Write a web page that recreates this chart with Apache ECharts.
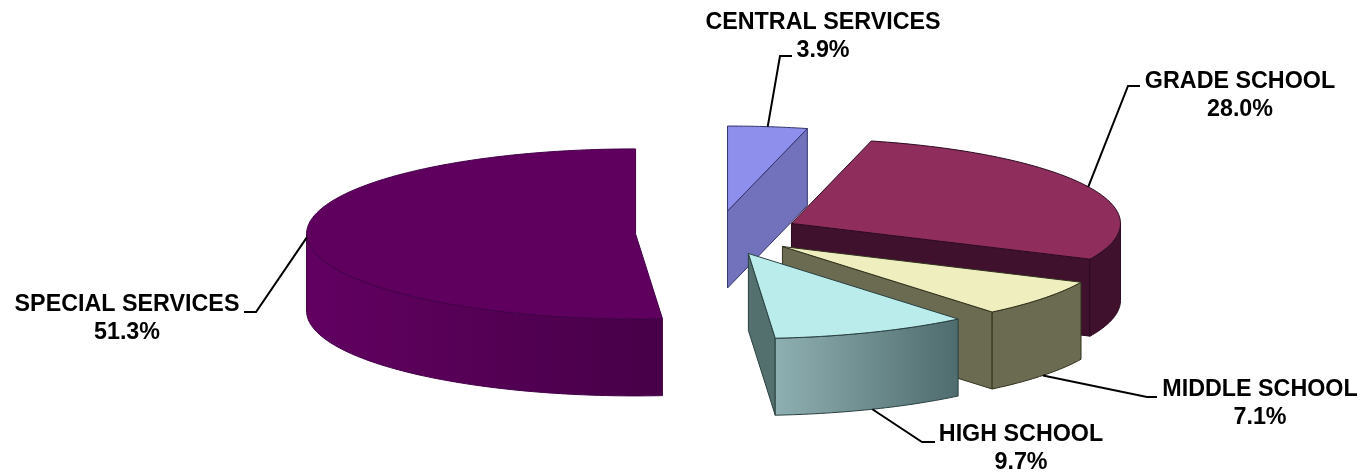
<!DOCTYPE html>
<html>
<head>
<meta charset="utf-8">
<style>html,body{margin:0;padding:0;background:#fff}#chart{width:1363px;height:474px}</style>
<script src="https://cdn.jsdelivr.net/npm/echarts@6/dist/echarts.min.js"></script>
</head>
<body>
<div id="chart"></div>
<script>
// Budget shares, listed clockwise from twelve o'clock.
const categories = ['CENTRAL SERVICES', 'GRADE SCHOOL', 'MIDDLE SCHOOL', 'HIGH SCHOOL', 'SPECIAL SERVICES'];
const shares = [3.9, 28.0, 7.1, 9.7, 51.3];

// Tilted pie geometry.
const PIE = { cx: 717.5, cy: 233, rx: 329, ry: 85, depth: 77, explode: 82, explodeTilt: 0.27 };

// Face colours per slice; rim entries may be a [left, right] gradient.
const STYLES = [
  { top: '#8e8eec', rim: '#7272bc', cut: '#7272bc', line: '#34346e' },
  { top: '#8f2d5d', rim: '#3f112d', cut: '#3f112d', line: '#2c0a20' },
  { top: '#eeeebe', rim: '#6b6b51', cut: '#6b6b51', line: '#33331f' },
  { top: '#bbecec', rim: ['#8fb0b2', '#4e6b6d'], cut: '#53706f', line: '#2a4040' },
  { top: '#5f005f', rim: ['#620062', '#470047'], cut: '#470047', line: '#430048' }
];

// Callout text centre, and the two bends of each leader line.
const CALLOUTS = [
  { x: 823, y: [23, 51], bend: [[780, 56], [792, 56]] },
  { x: 1240, y: [82, 110], bend: [[1128, 86], [1140, 86]] },
  { x: 1260, y: [390, 418], bend: [[1147, 397], [1157, 397]] },
  { x: 1021, y: [435, 463], bend: [[922, 442], [935, 442]] },
  { x: 127, y: [305, 333], bend: [[256, 312], [244, 312]] }
];

const TOTAL = shares.reduce((a, b) => a + b, 0);
const RAD = Math.PI / 180;

// Point on the pie's ellipse; angle runs clockwise from the top, in degrees.
function rimPoint(o, deg, drop) {
  return [
    o[0] + PIE.rx * Math.sin(deg * RAD),
    o[1] - PIE.ry * Math.cos(deg * RAD) + (drop || 0)
  ];
}

function arc(o, from, to, drop) {
  const n = Math.max(2, Math.ceil(Math.abs(to - from)));
  const pts = [];
  for (let i = 0; i <= n; i++) pts.push(rimPoint(o, from + (to - from) * i / n, drop));
  return pts;
}

function fillOf(c) {
  return Array.isArray(c)
    ? { type: 'linear', x: 0, y: 0, x2: 1, y2: 0, colorStops: [{ offset: 0, color: c[0] }, { offset: 1, color: c[1] }] }
    : c;
}

function face(points, fill, line) {
  return {
    type: 'polygon',
    shape: { points: points },
    style: { fill: fillOf(fill), stroke: line, lineWidth: 1, lineJoin: 'round' }
  };
}

function renderSlice(params, api) {
  const i = api.value(0);
  const share = api.value(1);
  const before = shares.slice(0, i).reduce((a, b) => a + b, 0);
  const a1 = before / TOTAL * 360;
  const a2 = a1 + share / TOTAL * 360;
  const mid = (a1 + a2) / 2;
  const st = STYLES[i];
  const d = PIE.depth;

  // Each slice is pushed out from the pie centre along its middle angle.
  const o = [
    PIE.cx + PIE.explode * Math.sin(mid * RAD),
    PIE.cy - PIE.explode * PIE.explodeTilt * Math.cos(mid * RAD)
  ];
  const children = [];

  // Radial cut faces, only when they turn towards the viewer.
  const cutFace = (deg) => {
    const p = rimPoint(o, deg);
    children.push(face([o, p, [p[0], p[1] + d], [o[0], o[1] + d]], st.cut, st.line));
  };
  if (Math.sin(a1 * RAD) < -1e-6) cutFace(a1);
  if (Math.sin(a2 * RAD) > 1e-6) cutFace(a2);

  // Outer wall over the front half of the ellipse.
  const r1 = Math.max(a1, 90);
  const r2 = Math.min(a2, 270);
  if (r2 > r1) {
    children.push(face(arc(o, r1, r2, 0).concat(arc(o, r2, r1, d)), st.rim, st.line));
  }

  // Top face.
  children.push(face([o].concat(arc(o, a1, a2, 0)), st.top, st.line));

  // Leader line, anchored on the rim at the slice's middle angle.
  const onFront = mid > 100 && mid < 260;
  const c = CALLOUTS[i];
  children.push({
    type: 'polyline',
    shape: { points: [rimPoint(o, mid, onFront ? d : 0)].concat(c.bend) },
    style: { fill: null, stroke: '#000', lineWidth: 2 }
  });

  // Two-line callout text.
  [categories[i], share.toFixed(1) + '%'].forEach((t, k) => {
    children.push({
      type: 'text',
      style: {
        text: t, x: c.x, y: c.y[k],
        align: 'center', verticalAlign: 'middle',
        fill: '#000',
        font: 'bold 23.3px "Liberation Sans", Arial, sans-serif'
      }
    });
  });

  return { type: 'group', children: children };
}

const chart = echarts.init(document.getElementById('chart'), null, { renderer: 'canvas' });
chart.setOption({
  animation: false,
  backgroundColor: '#fff',
  series: [{
    type: 'custom',
    coordinateSystem: 'none',
    silent: true,
    clip: false,
    data: shares.map((v, i) => [i, v]),
    encode: { value: 1 },
    renderItem: renderSlice
  }]
});
</script>
</body>
</html>
